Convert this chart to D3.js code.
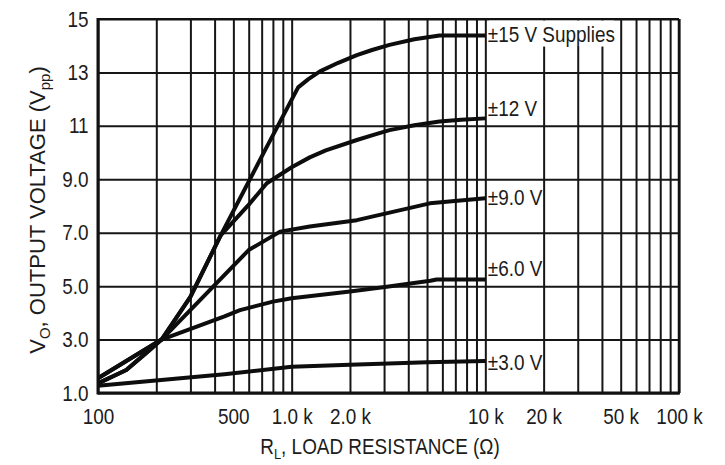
<!DOCTYPE html>
<html>
<head>
<meta charset="utf-8">
<script src="https://cdn.jsdelivr.net/npm/d3@7"></script>
<style>
  body { margin: 0; background: #fff; }
  svg { display: block; }
  text { font-family: "Liberation Sans", Arial, Helvetica, sans-serif; fill: #1c1c1c; }
</style>
</head>
<body>
<script>
// values
var xTickValues = [100, 500, 1000, 2000, 10000, 20000, 50000, 100000];
var xTickLabels = ["100", "500", "1.0 k", "2.0 k", "10 k", "20 k", "50 k", "100 k"];
var yTickValues = [1, 3, 5, 7, 9, 11, 13, 15];
var yTickLabels = ["1.0", "3.0", "5.0", "7.0", "9.0", "11", "13", "15"];

var supplyLabels = ["±15 V Supplies", "±12 V", "±9.0 V", "±6.0 V", "±3.0 V"];

var rl15 = [100, 140, 180, 213, 300, 430, 730, 1080, 1220, 1400, 1740, 2170, 2600, 3200, 4300, 5800, 10000];
var vo15 = [1.36, 1.86, 2.54, 3.0, 4.6, 6.9, 10.1, 12.44, 12.75, 13.04, 13.36, 13.65, 13.84, 14.03, 14.24, 14.38, 14.38];

var rl12 = [100, 140, 180, 213, 300, 430, 609, 744, 1000, 1240, 1500, 2170, 2700, 3200, 4300, 5800, 7500, 10000];
var vo12 = [1.36, 1.86, 2.54, 3.0, 4.6, 6.9, 8.1, 8.85, 9.45, 9.82, 10.08, 10.47, 10.68, 10.84, 11.02, 11.16, 11.23, 11.28];

var rl9 = [100, 213, 600, 871, 1240, 2170, 5170, 10000];
var vo9 = [1.55, 3.0, 6.35, 7.04, 7.23, 7.47, 8.1, 8.29];

var rl6 = [100, 213, 450, 541, 800, 1000, 2000, 3100, 5200, 5600, 10000];
var vo6 = [1.55, 3.0, 3.87, 4.1, 4.42, 4.55, 4.8, 4.98, 5.2, 5.25, 5.25];

var rl3 = [100, 450, 1000, 2000, 5000, 10000];
var vo3 = [1.27, 1.7, 1.98, 2.06, 2.15, 2.2];

var series = [
  {label: supplyLabels[0], r: rl15, v: vo15},
  {label: supplyLabels[1], r: rl12, v: vo12},
  {label: supplyLabels[2], r: rl9, v: vo9},
  {label: supplyLabels[3], r: rl6, v: vo6},
  {label: supplyLabels[4], r: rl3, v: vo3}
];

// layout
var width = 725, height = 465;
var pLeft = 98, pRight = 679, pTop = 19, pBottom = 393;
var labelShift = [6, -2, 7, -3, 9];   // baseline offset of each curve label
var sx = 0.86;
var squeeze = 'scale(' + sx + ',1)';

var x = d3.scaleLog().domain([100, 100000]).range([pLeft, pRight]);
var y = d3.scaleLinear().domain([1, 15]).range([pBottom, pTop]);

var svg = d3.select('body').append('svg')
  .attr('width', width)
  .attr('height', height);

svg.append('rect').attr('width', width).attr('height', height).attr('fill', '#fff');

// vertical grid + x labels
var xAxis = d3.axisBottom(x)
  .tickValues(x.ticks())
  .tickSize(-(pBottom - pTop))
  .tickPadding(15)
  .tickFormat(function(d){
    var i = xTickValues.indexOf(d);
    return i < 0 ? '' : xTickLabels[i];
  });

var gx = svg.append('g')
  .attr('transform', 'translate(0,' + pBottom + ')')
  .call(xAxis);
gx.select('.domain').remove();
gx.selectAll('line').attr('stroke', '#161616').attr('stroke-width', 2);
gx.selectAll('text')
  .attr('font-size', 22)
  .attr('font-family', '"Liberation Sans", Arial, sans-serif')
  .attr('fill', '#1c1c1c')
  .attr('transform', squeeze);

// horizontal grid + y labels
var yAxis = d3.axisLeft(y)
  .tickValues(yTickValues)
  .tickSize(-(pRight - pLeft))
  .tickPadding(11)
  .tickFormat(function(d, i){ return yTickLabels[i]; });

var gy = svg.append('g')
  .attr('transform', 'translate(' + pLeft + ',0)')
  .call(yAxis);
gy.select('.domain').remove();
gy.selectAll('line').attr('stroke', '#161616').attr('stroke-width', 2);
gy.selectAll('text')
  .attr('font-size', 22)
  .attr('font-family', '"Liberation Sans", Arial, sans-serif')
  .attr('fill', '#1c1c1c')
  .attr('transform', squeeze);

// curves
var line = d3.line()
  .x(function(d){ return x(d[0]); })
  .y(function(d){ return y(d[1]); })
  .curve(d3.curveLinear);

svg.selectAll('path.curve').data(series)
  .enter().append('path')
    .attr('class', 'curve')
    .attr('fill', 'none')
    .attr('stroke', '#0d0d0d')
    .attr('stroke-width', 4)
    .attr('stroke-linejoin', 'round')
    .attr('d', function(d){
      return line(d.r.map(function(r, i){ return [r, d.v[i]]; }));
    });

// curve labels, with white knock-out behind them
var lab = svg.selectAll('g.lab').data(series)
  .enter().append('g')
    .attr('class', 'lab')
    .attr('transform', function(d, i){
      var last = d.v.length - 1;
      return 'translate(' + (x(d.r[last]) + 2.5) + ',' + (y(d.v[last]) + labelShift[i]) + ')';
    });

lab.append('rect')
  .attr('x', 1).attr('y', -21)
  .attr('height', 26)
  .attr('fill', '#fff');

lab.append('text')
  .attr('font-size', 22)
  .attr('transform', squeeze)
  .text(function(d){ return d.label; });

lab.each(function(){
  var g = d3.select(this);
  var w = g.select('text').node().getBBox().width * sx;
  g.select('rect').attr('width', w - 2);
});

// frame
svg.append('line').attr('x1', pLeft).attr('x2', pRight).attr('y1', pTop).attr('y2', pTop)
  .attr('stroke', '#111').attr('stroke-width', 2);
svg.append('line').attr('x1', pRight).attr('x2', pRight).attr('y1', pTop).attr('y2', pBottom)
  .attr('stroke', '#111').attr('stroke-width', 2.5);
svg.append('line').attr('x1', pLeft).attr('x2', pLeft).attr('y1', pTop - 1).attr('y2', pBottom + 1.5)
  .attr('stroke', '#111').attr('stroke-width', 3);
svg.append('line').attr('x1', pLeft).attr('x2', pRight + 1).attr('y1', pBottom).attr('y2', pBottom)
  .attr('stroke', '#111').attr('stroke-width', 3);

// axis titles
var xt = svg.append('text')
  .attr('transform', 'translate(380,454) ' + squeeze)
  .attr('text-anchor', 'middle')
  .attr('font-size', 22);
xt.append('tspan').text('R');
xt.append('tspan').attr('font-size', 15).attr('dy', 5).text('L');
xt.append('tspan').attr('dy', -5).text(', LOAD RESISTANCE (Ω)');

var yt = svg.append('text')
  .attr('transform', 'translate(45,210) rotate(-90)')
  .attr('text-anchor', 'middle')
  .attr('font-size', 22);
yt.append('tspan').text('V');
yt.append('tspan').attr('font-size', 15).attr('dy', 5).text('O');
yt.append('tspan').attr('dy', -5).text(', OUTPUT VOLTAGE (V');
yt.append('tspan').attr('font-size', 15).attr('dy', 5).text('pp');
yt.append('tspan').attr('dy', -5).text(')');
</script>
</body>
</html>
